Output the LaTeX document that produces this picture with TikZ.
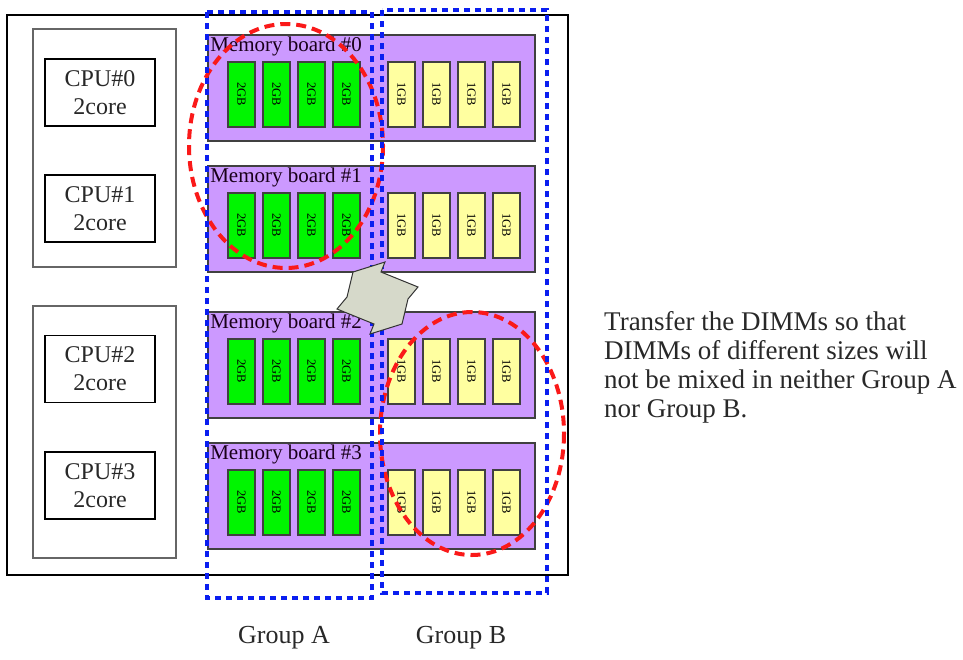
\documentclass[tikz,border=0pt]{standalone}
\usepackage{fontspec}
\setmainfont{Liberation Serif}
\usetikzlibrary{positioning,shapes.geometric}
\definecolor{boardviolet}{RGB}{204,153,255}
\definecolor{dimmgreen}{RGB}{0,245,0}
\definecolor{dimmyellow}{RGB}{255,255,160}
\definecolor{groupblue}{RGB}{10,30,240}
\definecolor{markred}{RGB}{250,25,25}
\definecolor{swapgray}{RGB}{214,217,202}
\definecolor{textgray}{RGB}{40,40,40}
\tikzset{
  cpubox/.style={draw, line width=1.8pt, minimum width=110pt, minimum height=67pt, align=center,
    font=\fontsize{24}{28}\selectfont, text=textgray},
  cpugroup/.style={draw=black!60, line width=2.5pt, minimum width=143pt},
  board/.style={draw=black!75, line width=1.8pt, fill=boardviolet, minimum width=327pt, minimum height=106pt},
  dimm/.style={draw=black!75, line width=1.5pt, minimum width=27pt, minimum height=65pt, inner sep=0pt},
  dimmlabel/.style={rotate=-90, font=\fontsize{12.5}{12.5}\selectfont},
  groupline/.style={draw=groupblue, line width=3.8pt, dash pattern=on 6pt off 5pt},
  markline/.style={draw=markred, line width=4pt, dash pattern=on 10pt off 6pt}
}

\begin{document}
\begin{tikzpicture}[x=1pt,y=-1pt]
\useasboundingbox (0,0) rectangle (963,659);
\node[draw, line width=1.3pt, minimum width=561pt, minimum height=560pt] at (287.5,295) (frame) {};
\node[cpugroup, minimum height=238pt] at (104.5,148) (grp01) {};
\node[cpugroup, minimum height=252pt] at (104.5,432) (grp23) {};
\node[cpubox] at (100,92.5) (cpu0) {CPU\#0\\2core};
\node[cpubox] at (100,208.5) (cpu1) {CPU\#1\\2core};
\node[cpubox] at (100,369) (cpu2) {CPU\#2\\2core};
\node[cpubox] at (100,485.5) (cpu3) {CPU\#3\\2core};
\foreach \b/\y in {0/88,1/219,2/365,3/496} {
  \node[board] at (371.5,\y) (mb\b) {};
  \node[anchor=north west, inner sep=1pt, font=\fontsize{21}{21}\selectfont, text=black!80!violet]
    at ([xshift=2pt,yshift=-2pt]mb\b.north west) (mbl\b) {Memory board \#\b};
  \foreach \k in {0,1,2,3} {
    \node[dimm, fill=dimmgreen] at (241.5+\k*35,\y+6.5) (g\b\k) {};
    \node[dimmlabel] at (g\b\k) {2GB};
    \node[dimm, fill=dimmyellow] at (401.5+\k*35,\y+6.5) (s\b\k) {};
    \node[dimmlabel] at (s\b\k) {1GB};
  }
}
\draw[markline] (286,146) ellipse [x radius=97, y radius=122];
\draw[markline] (472,433.5) ellipse [x radius=92, y radius=121.5];
\draw[groupline] (207,12) rectangle (372,598);
\draw[groupline] (382,10) rectangle (547,593);
\filldraw[fill=swapgray, draw=black!80, line width=1pt, line join=miter]
  (385,262) -- (381,272) -- (418,287) -- (408,299) -- (402,324) -- (370,334)
  -- (374,324) -- (337,309) -- (347,297) -- (353,272) -- cycle;
\node[font=\fontsize{26}{26}\selectfont, text=textgray] at (284,638) (grpA) {Group A};
\node[font=\fontsize{26}{26}\selectfont, text=textgray] at (461,638) (grpB) {Group B};
\node[anchor=north west, align=left, inner sep=0pt, font=\fontsize{27}{29}\selectfont, text=textgray]
  at (604,311) (note) {Transfer the DIMMs so that\\DIMMs of different sizes will\\not be mixed in neither Group A\\nor Group B.};
\end{tikzpicture}
\end{document}
